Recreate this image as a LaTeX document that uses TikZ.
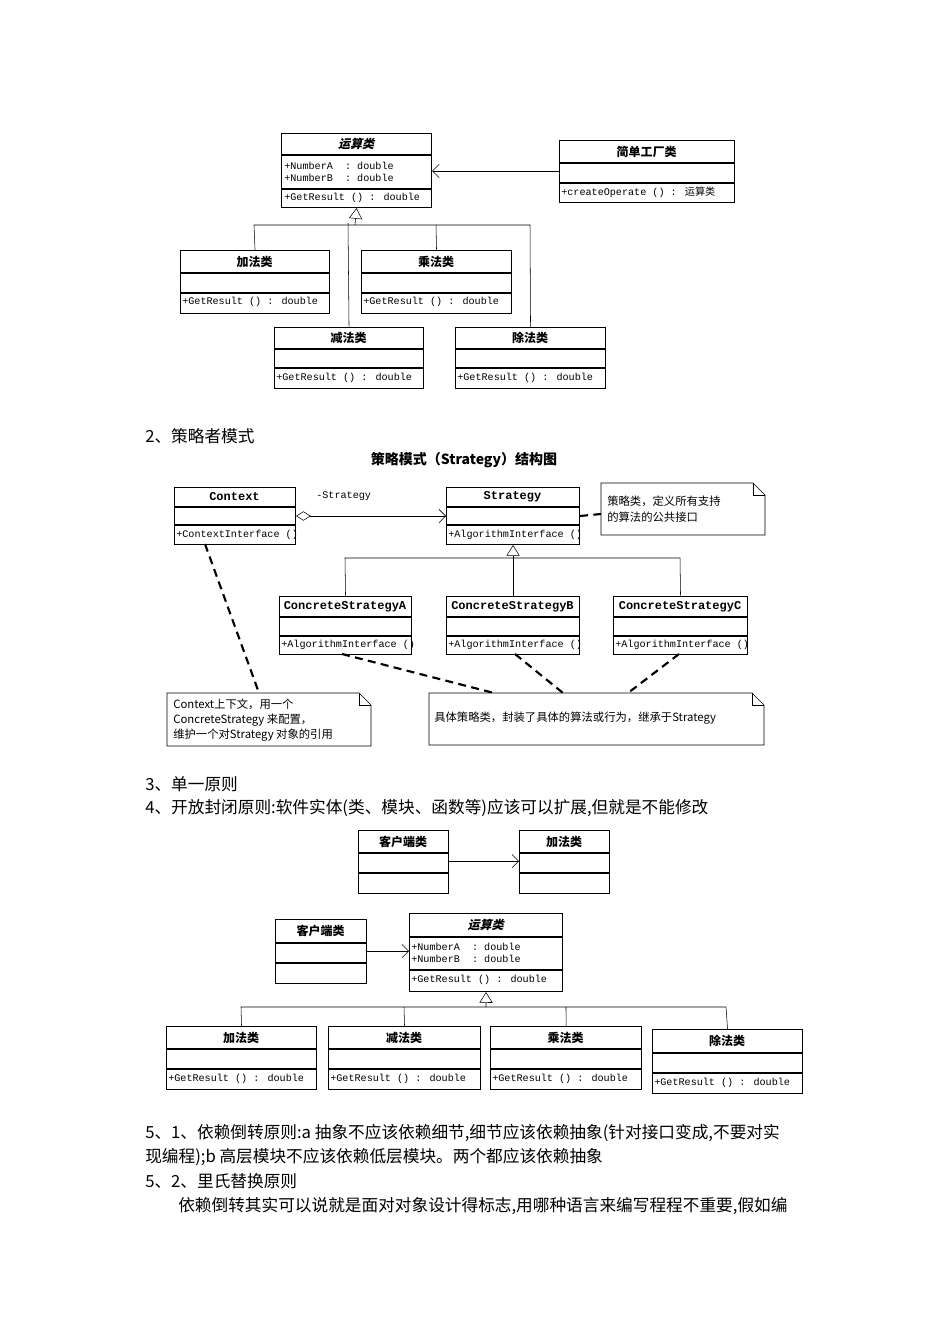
\documentclass[tikz,border=0pt]{standalone}
\usepackage{fontspec}
\setmainfont{Noto Sans CJK SC}
\newfontfamily\cjkit[FakeSlant=0.25]{Noto Sans CJK SC}
\newfontfamily\mono{Liberation Mono}
\usetikzlibrary{arrows.meta}
\newcommand\umlbox[8]{%
  \node[draw,line width=0.8pt,inner sep=0,anchor=north west,minimum width={(#4-#2)*0.75pt},minimum height={(#5-#3)*0.75pt}] (#1) at (#2,#3) {};
  \draw[line width=0.8pt] (#2,#6) -- (#4,#6) (#2,#7) -- (#4,#7);
  \node[ttl] at ({(#2+#4)/2},{(#3+#6)/2}) {#8};
}
\newcommand\umlnote[5]{%
  \node[inner sep=0,anchor=north west,minimum width={(#4-#2)*0.75pt},minimum height={(#5-#3)*0.75pt}] (#1) at (#2,#3) {};
  \draw[thin] (#2,#3) -- ({#4-12},#3) -- (#4,{#3+12}) -- (#4,#5) -- (#2,#5) -- cycle;
  \draw[thin] ({#4-12},#3) -- ({#4-12},{#3+12}) -- (#4,{#3+12});
}
\begin{document}
\begin{tikzpicture}[x=0.75pt,y=-0.75pt,
  ttl/.style={font=\fontsize{9}{10}\selectfont\bfseries,inner sep=0},
  mem/.style={font=\mono\fontsize{7.6}{9.5}\selectfont,inner sep=0,anchor=west,align=left},
  body/.style={font=\fontsize{12.5}{14}\selectfont,inner sep=0,anchor=west},
  gen/.style={-{Triangle[open,length=8pt,width=10pt]},thin},
  dep/.style={-{Straight Barb[length=5pt,width=10pt]},thin},
  ndash/.style={line width=1.6pt,dash pattern=on 6pt off 4pt}]
\useasboundingbox (0,0) rectangle (950,1344);
% ---------- diagram 1
\umlbox{ysl}{281}{133}{431}{207}{155}{189}{\cjkit 运算类}
\node[mem] at (284,172) {+NumberA\ \ :\ double\\+NumberB\ \ :\ double};
\node[mem] at (284,198) {+GetResult () : double};
\umlbox{gc}{559}{140}{734}{202}{163}{183}{简单工厂类}
\node[mem] at (561,192) {+createOperate () : {\rmfamily 运算类}};
\draw[dep] (gc.west |- 0,171) -- (ysl.east |- 0,171);
\umlbox{jia}{180}{250}{329}{313}{273}{293}{加法类}
\node[mem] at (182,302) {+GetResult () : double};
\umlbox{cheng}{361}{250}{511}{313}{273}{293}{乘法类}
\node[mem] at (363,302) {+GetResult () : double};
\umlbox{jian}{274}{327}{423}{388}{349}{368}{减法类}
\node[mem] at (276,378) {+GetResult () : double};
\umlbox{chu}{455}{327}{605}{388}{349}{368}{除法类}
\node[mem] at (457,378) {+GetResult () : double};
\draw[thin] (jia.north) -- (254,225) -- (530,225) -- (chu.north);
\draw[thin] (cheng.north) -- (436,225);
\draw[thin] (jian.north) -- (348,223);
\draw[gen] (355,225) -- (ysl.south);
% ---------- text
\node[body] at (145,436) {2、策略者模式};
% ---------- diagram 2
\node[font=\fontsize{10.5}{12}\selectfont\bfseries] (title) at (464,460) {策略模式（Strategy）结构图};
\umlbox{ctx}{174}{487}{295}{544}{507}{525}{\mono Context}
\node[mem] at (176,535) {+ContextInterface ()};
\umlbox{str}{446}{487}{579}{544}{507}{525}{\mono Strategy}
\node[mem] at (448,535) {+AlgorithmInterface ()};
\draw[thin,{Diamond[open,length=11pt,width=7pt]}-{Straight Barb[length=5pt,width=10pt]}] (ctx.east |- 0,516) -- (str.west |- 0,516);
\node[mem] (lbl) at (316,496) {-Strategy};
\umlnote{n1}{601}{483}{765}{535}
\node[font=\fontsize{8.5}{12}\selectfont,align=left,anchor=west,inner sep=0] at (607,509) {策略类，定义所有支持\\的算法的公共接口};
\draw[ndash] (str.east |- 0,516) -- (n1.west |- 0,514);
\umlbox{csa}{279}{596}{411}{654}{617}{636}{\mono ConcreteStrategyA}
\node[mem] at (281,645) {+AlgorithmInterface ()};
\umlbox{csb}{446}{596}{579}{654}{617}{636}{\mono ConcreteStrategyB}
\node[mem] at (448,645) {+AlgorithmInterface ()};
\umlbox{csc}{613}{596}{747}{654}{617}{636}{\mono ConcreteStrategyC}
\node[mem] at (615,645) {+AlgorithmInterface ()};
\draw[thin] (csa.north) -- (345,558) -- (680,558) -- (csc.north);
\draw[gen] (csb.north) -- (str.south);
\umlnote{n2}{167}{693}{371}{746}
\node[font=\fontsize{8.5}{11}\selectfont,align=left,anchor=west,inner sep=0] at (173,720) {Context上下文，用一个\\ConcreteStrategy 来配置，\\维护一个对Strategy 对象的引用};
\umlnote{n3}{429}{693}{764}{745}
\node[font=\fontsize{8.5}{11}\selectfont,anchor=west,inner sep=0] at (434,718) {具体策略类，封装了具体的算法或行为，继承于Strategy};
\draw[ndash] (205,544) -- (259,693);
\draw[ndash] (342,654) -- (494,693);
\draw[ndash] (515,654) -- (563,693);
\draw[ndash] (679,654) -- (628,693);
% ---------- text
\node[body] at (145,784) {3、单一原则};
\node[body] at (145,808) {4、开放封闭原则:软件实体(类、模块、函数等)应该可以扩展,但就是不能修改};
% ---------- diagram 3
\umlbox{kh1}{358}{830}{448}{893}{853}{873}{客户端类}
\umlbox{jia2}{519}{830}{609}{893}{853}{873}{加法类}
\draw[dep] (kh1.east |- 0,861) -- (jia2.west |- 0,861);
\umlbox{kh2}{275}{919}{366}{983}{943}{963}{客户端类}
\umlbox{ysl2}{409}{913}{562}{991}{937}{970}{\cjkit 运算类}
\node[mem] at (411,953) {+NumberA\ \ :\ double\\+NumberB\ \ :\ double};
\node[mem] at (411,980) {+GetResult () : double};
\draw[dep] (kh2.east |- 0,951) -- (ysl2.west |- 0,951);
\umlbox{a3}{166}{1026}{316}{1089}{1049}{1069}{加法类}
\node[mem] at (168,1079) {+GetResult () : double};
\umlbox{b3}{328}{1026}{480}{1089}{1049}{1069}{减法类}
\node[mem] at (330,1079) {+GetResult () : double};
\umlbox{c3}{490}{1026}{641}{1089}{1049}{1069}{乘法类}
\node[mem] at (492,1079) {+GetResult () : double};
\umlbox{d3}{652}{1029}{802}{1093}{1053}{1073}{除法类}
\node[mem] at (654,1083) {+GetResult () : double};
\draw[thin] (a3.north) -- (241,1007) -- (726,1007) -- (d3.north);
\draw[thin] (b3.north) -- (404,1007);
\draw[thin] (c3.north) -- (566,1007);
\draw[gen] (486,1007) -- (ysl2.south);
% ---------- text
\node[body] at (145,1133) {5、1、依赖倒转原则:a 抽象不应该依赖细节,细节应该依赖抽象(针对接口变成,不要对实};
\node[body] at (145,1157) {现编程);b 高层模块不应该依赖低层模块。两个都应该依赖抽象};
\node[body] at (145,1181) {5、2、里氏替换原则};
\node[body] at (178,1206) {依赖倒转其实可以说就是面对对象设计得标志,用哪种语言来编写程程不重要,假如编};
\end{tikzpicture}
\end{document}
